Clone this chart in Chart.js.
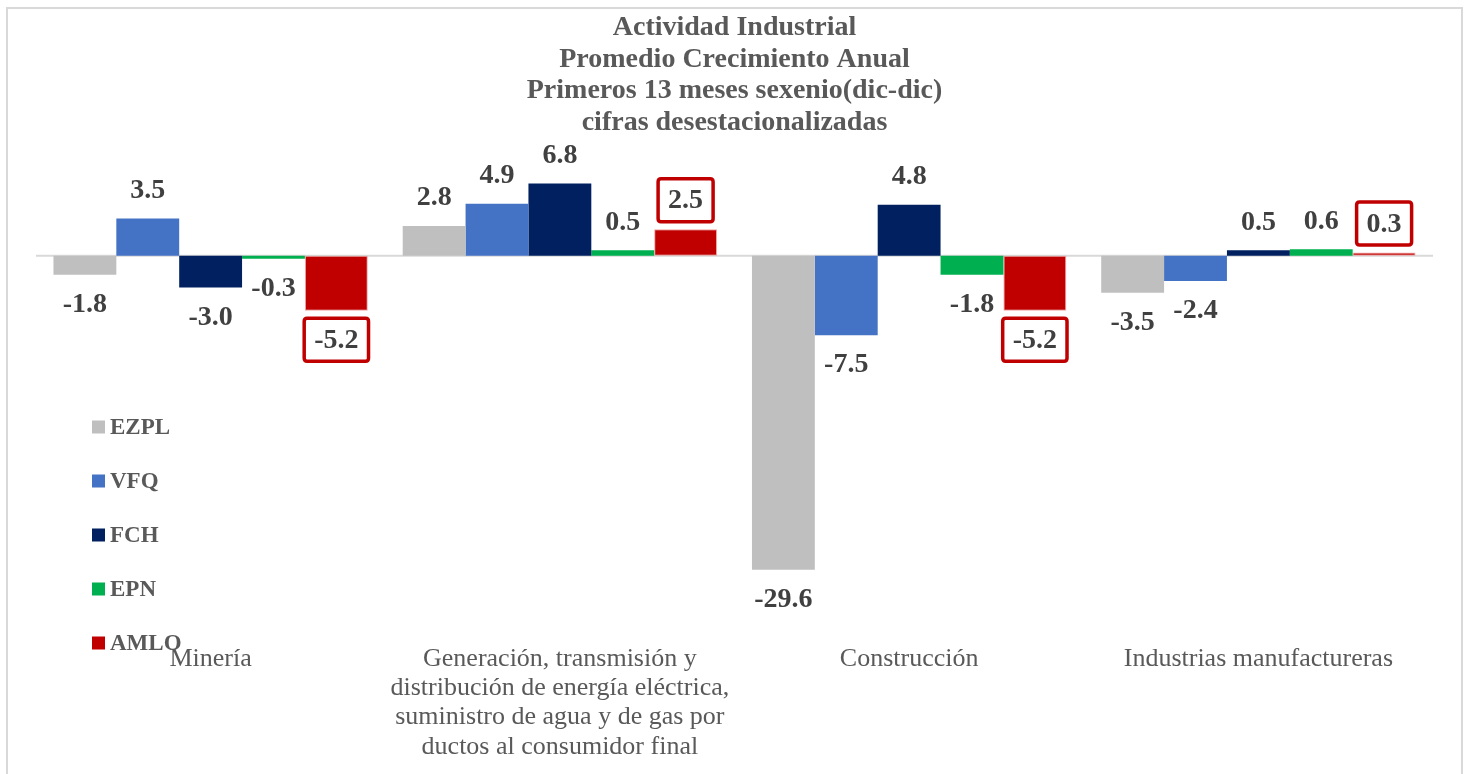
<!DOCTYPE html>
<html>
<head>
<meta charset="utf-8">
<script src="https://cdn.jsdelivr.net/npm/chart.js@4.4.1/dist/chart.umd.min.js"></script>
<style>
  html, body { margin: 0; padding: 0; background: #ffffff; }
  #wrap { position: relative; width: 1470px; height: 774px; }
  canvas { display: block; }
</style>
</head>
<body>
<div id="wrap"><canvas id="c" width="1470" height="774"></canvas></div>
<script>
const categories = [
  "Minería",
  ["Generación, transmisión y", "distribución de energía eléctrica,", "suministro de agua y de gas por", "ductos al consumidor final"],
  "Construcción",
  "Industrias manufactureras"
];
const seriesNames = ["EZPL", "VFQ", "FCH", "EPN", "AMLO"];
const ezpl = [-1.8, 2.8, -29.6, -3.5];
const vfq  = [3.5, 4.9, -7.5, -2.4];
const fch  = [-3.0, 6.8, 4.8, 0.5];
const epn  = [-0.3, 0.5, -1.8, 0.6];
const amlo = [-5.2, 2.5, -5.2, 0.3];
const titleLines = ["Actividad Industrial", "Promedio Crecimiento Anual", "Primeros 13 meses sexenio(dic-dic)", "cifras desestacionalizadas"];
const yMin = -35, yMax = 10, yStep = 5;

const colors = ["#bfbfbf", "#4472c4", "#002060", "#00b050", "#c00000"];
const seriesValues = [ezpl, vfq, fch, epn, amlo];
const FONT = "'Liberation Serif', 'DejaVu Serif', serif";

const datasets = seriesValues.map((vals, i) => ({
  label: seriesNames[i],
  data: vals,
  backgroundColor: colors[i],
  borderColor: i === 4 ? "rgba(240,140,140,0.8)" : colors[i],
  borderWidth: i === 4 ? 1 : 0,
  borderSkipped: false,
  categoryPercentage: 0.9,
  barPercentage: 1.0
}));

const framePlugin = {
  id: "frame",
  beforeDraw(chart) {
    const ctx = chart.ctx;
    ctx.save();
    ctx.fillStyle = "#ffffff";
    ctx.fillRect(0, 0, chart.width, chart.height);
    ctx.strokeStyle = "#d9d9d9";
    ctx.lineWidth = 2;
    ctx.strokeRect(7, 8, 1455, 800);
    ctx.restore();
  }
};

function roundRect(ctx, x, y, w, h, r) {
  ctx.beginPath();
  ctx.moveTo(x + r, y);
  ctx.lineTo(x + w - r, y);
  ctx.quadraticCurveTo(x + w, y, x + w, y + r);
  ctx.lineTo(x + w, y + h - r);
  ctx.quadraticCurveTo(x + w, y + h, x + w - r, y + h);
  ctx.lineTo(x + r, y + h);
  ctx.quadraticCurveTo(x, y + h, x, y + h - r);
  ctx.lineTo(x, y + r);
  ctx.quadraticCurveTo(x, y, x + r, y);
  ctx.closePath();
}

const labelPlugin = {
  id: "valueLabels",
  afterDatasetsDraw(chart) {
    const ctx = chart.ctx;
    ctx.save();
    ctx.font = "bold 28px " + FONT;
    ctx.textAlign = "center";
    ctx.textBaseline = "middle";
    chart.data.datasets.forEach((ds, di) => {
      const meta = chart.getDatasetMeta(di);
      meta.data.forEach((el, j) => {
        const v = ds.data[j];
        const txt = v.toFixed(1);
        const y = v >= 0 ? el.y - 29 : el.y + 29;
        const x = el.x;
        if (di === 4) {
          const w = ctx.measureText(txt).width + 20;
          const h = 43;
          roundRect(ctx, x - w / 2, y - h / 2, w, h, 3);
          ctx.fillStyle = "#ffffff";
          ctx.fill();
          ctx.lineWidth = 3.5;
          ctx.strokeStyle = "#c00000";
          ctx.stroke();
        }
        ctx.fillStyle = "#404040";
        ctx.fillText(txt, x, y + 1);
      });
    });
    ctx.restore();
  }
};

const zeroLinePlugin = {
  id: "zeroLine",
  beforeDatasetsDraw(chart) {
    const ctx = chart.ctx;
    const y = chart.scales.y.getPixelForValue(0);
    ctx.save();
    ctx.strokeStyle = "#d9d9d9";
    ctx.lineWidth = 2;
    ctx.beginPath();
    ctx.moveTo(chart.chartArea.left, y);
    ctx.lineTo(chart.chartArea.right, y);
    ctx.stroke();
    ctx.restore();
  }
};

const legendPlugin = {
  id: "sideLegend",
  afterDraw(chart) {
    const ctx = chart.ctx;
    ctx.save();
    ctx.font = "bold 23px " + FONT;
    ctx.textBaseline = "middle";
    ctx.textAlign = "left";
    chart.data.datasets.forEach((ds, i) => {
      const cy = 427 + 54 * i;
      ctx.fillStyle = ds.backgroundColor;
      ctx.fillRect(92, cy - 6.5, 13, 13);
      ctx.fillStyle = "#595959";
      ctx.fillText(ds.label, 110, cy + 1);
    });
    ctx.restore();
  }
};

new Chart(document.getElementById("c"), {
  type: "bar",
  data: { labels: categories, datasets: datasets },
  options: {
    responsive: false,
    animation: false,
    layout: { padding: { left: 36, right: 37, top: 0, bottom: 0 } },
    plugins: {
      legend: { display: false },
      tooltip: { enabled: false },
      title: {
        display: true,
        text: titleLines,
        color: "#595959",
        font: { family: FONT, size: 28, weight: "bold", lineHeight: 1.13 },
        padding: { top: 12, bottom: 11 }
      }
    },
    scales: {
      x: {
        grid: { display: false },
        border: { display: false },
        ticks: {
          color: "#595959",
          font: { family: FONT, size: 26, lineHeight: 1.13 },
          padding: 9,
          maxRotation: 0,
          autoSkip: false
        },
        afterFit(scale) { scale.height = 147; }
      },
      y: {
        min: yMin, max: yMax,
        ticks: { display: false, stepSize: yStep },
        grid: { display: false },
        border: { display: false },
        afterFit(scale) { scale.width = 0; }
      }
    }
  },
  plugins: [framePlugin, zeroLinePlugin, labelPlugin, legendPlugin]
});
</script>
</body>
</html>
